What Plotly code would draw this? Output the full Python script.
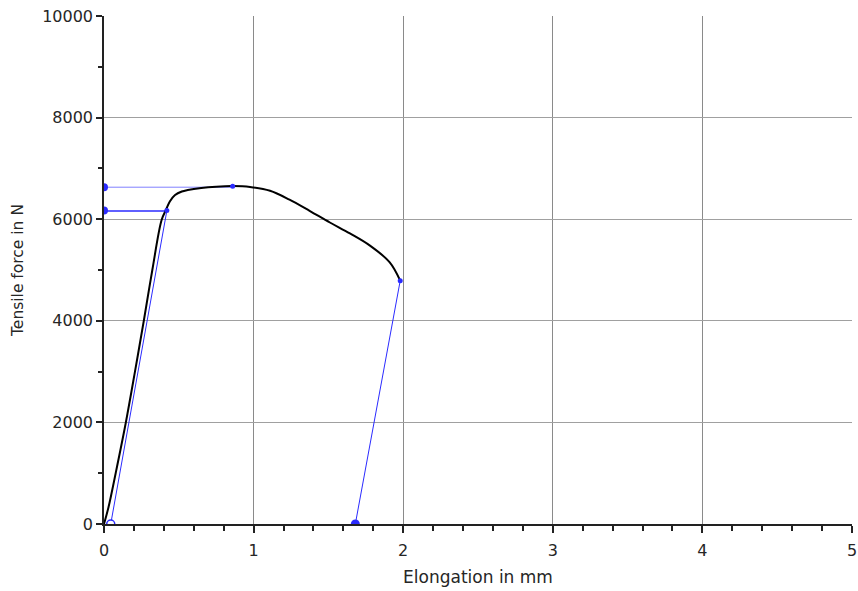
import plotly.graph_objects as go

# Black test curve: elongation (mm) vs tensile force (N)
curve_x = [0, 0.03, 0.078, 0.145, 0.207, 0.267, 0.323, 0.385, 0.414, 0.44, 0.475, 0.52, 0.56, 0.65, 0.75, 0.86, 0.976, 1.11, 1.24, 1.377, 1.51, 1.644, 1.778, 1.91, 1.98]
curve_y = [0, 330, 1000, 1983, 3000, 4016, 5000, 5984, 6181, 6350, 6476, 6545, 6575, 6615, 6640, 6652, 6635, 6560, 6385, 6160, 5935, 5720, 5480, 5150, 4790]

# Blue evaluation lines
slope_x = [0.045, 0.42]
slope_y = [0, 6165]
rp_x = [0, 0.42]
rp_y = [6160, 6160]
fm_x = [0, 0.86]
fm_y = [6630, 6630]
unload_x = [1.98, 1.68]
unload_y = [4790, 0]

# Blue markers
small_pts_x = [0.42, 0.86, 1.98]
small_pts_y = [6170, 6650, 4790]
axis_pts_x = [0, 0]
axis_pts_y = [6170, 6630]
open_pt_x = [0.045]
open_pt_y = [0]
filled_pt_x = [1.68]
filled_pt_y = [0]

x_ticks = [0, 1, 2, 3, 4, 5]
y_ticks = [0, 2000, 4000, 6000, 8000, 10000]

BLUE = "#2b2bff"
FAMILY = "DejaVu Sans, Verdana, sans-serif"
TXT = "#262626"
tick_font = dict(family=FAMILY, size=16, color=TXT)

fig = go.Figure()
fig.add_trace(go.Scatter(x=slope_x, y=slope_y, mode="lines", line=dict(color=BLUE, width=1)))
fig.add_trace(go.Scatter(x=rp_x, y=rp_y, mode="lines", line=dict(color=BLUE, width=1.5)))
fig.add_trace(go.Scatter(x=fm_x, y=fm_y, mode="lines", line=dict(color="#8080ff", width=1)))
fig.add_trace(go.Scatter(x=unload_x, y=unload_y, mode="lines", line=dict(color=BLUE, width=1)))
fig.add_trace(go.Scatter(x=curve_x, y=curve_y, mode="lines",
                         line=dict(color="black", width=2, shape="spline", smoothing=1)))
fig.add_trace(go.Scatter(x=small_pts_x, y=small_pts_y, mode="markers",
                         marker=dict(color=BLUE, size=5)))
fig.add_trace(go.Scatter(x=axis_pts_x, y=axis_pts_y, mode="markers",
                         marker=dict(color=BLUE, size=8)))
fig.add_trace(go.Scatter(x=open_pt_x, y=open_pt_y, mode="markers",
                         marker=dict(color="white", size=8, line=dict(color=BLUE, width=1.5))))
fig.add_trace(go.Scatter(x=filled_pt_x, y=filled_pt_y, mode="markers",
                         marker=dict(color=BLUE, size=9)))

fig.update_layout(
    width=858, height=591,
    margin=dict(l=104, r=6, t=16, b=67),
    paper_bgcolor="white", plot_bgcolor="white",
    showlegend=False,
    font=tick_font,
    xaxis=dict(range=[0, 5], tickvals=x_ticks, ticktext=[str(v) for v in x_ticks],
               automargin=False, tickfont=tick_font, ticklabelstandoff=4,
               showgrid=True, gridcolor="#8a8a8a", gridwidth=1,
               showline=True, linecolor="#222", linewidth=1.5,
               ticks="outside", ticklen=7, tickcolor="#222", tickwidth=1.5,
               minor=dict(dtick=0.2, ticks="outside", ticklen=5, tickcolor="#222", showgrid=False),
               zeroline=False,
               title=dict(text="Elongation in mm", font=dict(family=FAMILY, size=17, color=TXT), standoff=12)),
    yaxis=dict(range=[0, 10000], tickvals=y_ticks, ticktext=[str(v) for v in y_ticks],
               automargin=False, tickfont=tick_font,
               showgrid=True, gridcolor="#a0a0a0", gridwidth=1,
               showline=True, linecolor="#222", linewidth=1.5,
               ticks="outside", ticklen=6, tickcolor="#222", tickwidth=1.5,
               minor=dict(dtick=1000, ticks="outside", ticklen=4, tickcolor="#222", showgrid=False),
               zeroline=False,
               title=dict(text="Tensile force in N", font=dict(family=FAMILY, size=15.5, color=TXT), standoff=15)),
    xaxis2=dict(range=[0, 5], overlaying="x", anchor="y", side="bottom", automargin=False,
                tickvals=x_ticks, showticklabels=False, showgrid=False, zeroline=False,
                ticks="inside", ticklen=6, tickcolor="#222", tickwidth=1.5,
                minor=dict(dtick=0.2, ticks="inside", ticklen=5, tickcolor="#222", showgrid=False)),
    yaxis2=dict(range=[0, 10000], overlaying="y", anchor="x", side="left", automargin=False,
                tickvals=y_ticks, showticklabels=False, showgrid=False, zeroline=False,
                ticks="inside", ticklen=9, tickcolor="#222", tickwidth=1.5,
                minor=dict(dtick=1000, ticks="inside", ticklen=6, tickcolor="#222", showgrid=False)),
)

fig.write_html("out.html", config={"displayModeBar": False},
               post_script="document.body.style.margin='0';document.body.style.overflow='hidden';")
